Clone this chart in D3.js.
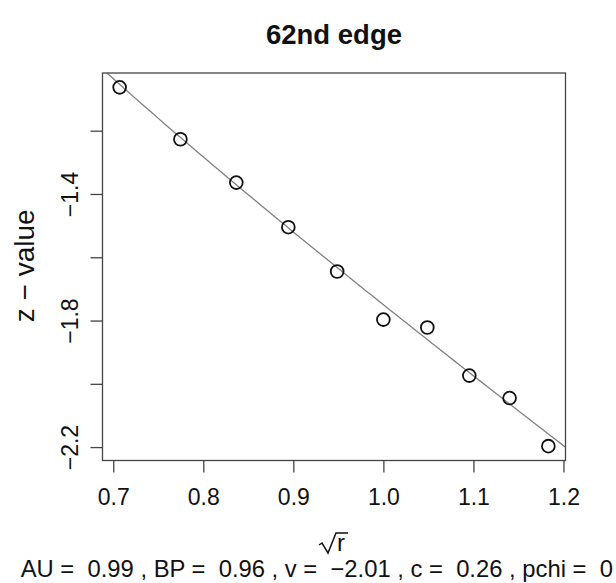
<!DOCTYPE html>
<html>
<head>
<meta charset="utf-8">
<script src="https://cdn.jsdelivr.net/npm/d3@7"></script>
<style>
  html, body { margin: 0; padding: 0; background: #fff; }
  svg { display: block; font-family: "Liberation Sans", Arial, Helvetica, sans-serif; }
</style>
</head>
<body>
<svg id="chart" width="616" height="583"></svg>
<script>
// ---- data ----
const sqrtR = [Math.sqrt(0.5), Math.sqrt(0.6), Math.sqrt(0.7), Math.sqrt(0.8), Math.sqrt(0.9),
               Math.sqrt(1.0), Math.sqrt(1.1), Math.sqrt(1.2), Math.sqrt(1.3), Math.sqrt(1.4)];
const zValues = [-1.063, -1.227, -1.364, -1.505, -1.645, -1.797, -1.822, -1.974, -2.045, -2.197];
const fitCoef = { v: -2.01, c: 0.26 };   // fitted curve z = v*sqrt(r) + c/sqrt(r)
const xTicks = [0.7, 0.8, 0.9, 1.0, 1.1, 1.2];
const xTickLabels = ["0.7", "0.8", "0.9", "1.0", "1.1", "1.2"];
const yTicks = [-2.2, -2.0, -1.8, -1.6, -1.4, -1.2];
const yTickLabels = ["\u22122.2", "", "\u22121.8", "", "\u22121.4", ""];
const titleText = "62nd edge";
const subText = "AU =  0.99 , BP =  0.96 , v =  \u22122.01 , c =  0.26 , pchi =  0";

// ---- layout ----
const L = 102.5, R = 565.5, T = 73, B = 460.5;
const svg = d3.select("#chart");

function ext(arr) {
  const [a, b] = d3.extent(arr);
  const d = (b - a) * 0.04;
  return [a - d, b + d];
}
const x = d3.scaleLinear().domain(ext(sqrtR)).range([L, R]);
const y = d3.scaleLinear().domain(ext(zValues)).range([B, T]);

// fitted curve (clipped to plot region)
svg.append("clipPath").attr("id", "clip")
  .append("rect").attr("x", L).attr("y", T).attr("width", R - L).attr("height", B - T);
const xd = x.domain();
const curveXs = d3.range(0, 101).map(i => xd[0] + (xd[1] - xd[0]) * i / 100);
svg.append("path")
  .attr("clip-path", "url(#clip)")
  .attr("d", d3.line().x(d => x(d)).y(d => y(fitCoef.v * d + fitCoef.c / d))(curveXs))
  .attr("fill", "none").attr("stroke", "#808080").attr("stroke-width", 1.3);

// points
svg.append("g").selectAll("circle").data(sqrtR.map((d, i) => [d, zValues[i]]))
  .join("circle")
  .attr("cx", d => x(d[0])).attr("cy", d => y(d[1])).attr("r", 6.4)
  .attr("fill", "none").attr("stroke", "#111").attr("stroke-width", 1.8);

// box
svg.append("rect").attr("x", L).attr("y", T).attr("width", R - L).attr("height", B - T)
  .attr("fill", "none").attr("stroke", "#444").attr("stroke-width", 1.3);

// x axis
const gx = svg.append("g").attr("transform", `translate(0,${B})`)
  .call(d3.axisBottom(x).tickValues(xTicks).tickSize(12)
    .tickFormat((d, i) => xTickLabels[i]));
gx.select(".domain").remove();
gx.selectAll(".tick line").attr("stroke", "#444").attr("stroke-width", 1.3);
gx.selectAll(".tick text").attr("y", 44.5).attr("dy", 0)
  .attr("font-size", 23).attr("fill", "#111")
  .attr("font-family", "Liberation Sans, Arial, sans-serif");

// y axis
const gy = svg.append("g").attr("transform", `translate(${L},0)`)
  .call(d3.axisLeft(y).tickValues(yTicks).tickSize(12)
    .tickFormat((d, i) => yTickLabels[i]));
gy.select(".domain").remove();
gy.selectAll(".tick line").attr("stroke", "#444").attr("stroke-width", 1.3);
gy.selectAll(".tick text").attr("x", 0).attr("dy", 0)
  .attr("transform", "translate(-24.5,0) rotate(-90)")
  .attr("text-anchor", "middle")
  .attr("font-size", 23).attr("fill", "#111")
  .attr("font-family", "Liberation Sans, Arial, sans-serif");

// title
svg.append("text").attr("x", (L + R) / 2).attr("y", 44)
  .attr("text-anchor", "middle").attr("font-size", 27.5).attr("font-weight", "bold")
  .attr("fill", "#111").text(titleText);

// y label
svg.append("text").attr("transform", `translate(34,${(T + B) / 2 - 1}) rotate(-90)`)
  .attr("text-anchor", "middle").attr("font-size", 28).attr("fill", "#111")
  .text("z \u2212 value");

// x label: sqrt(r)
const cx = (L + R) / 2;
const xl = svg.append("g").attr("transform", `translate(${cx},551)`);
xl.append("text").attr("x", 3).attr("y", 0).attr("text-anchor", "start")
  .attr("font-size", 24).attr("fill", "#111").text("r");
xl.append("path")
  .attr("d", "M-15,-6 L-12,-8 L-6,2 L2,-18 L14,-18")
  .attr("fill", "none").attr("stroke", "#111").attr("stroke-width", 1.5);

// sub text
svg.append("text").attr("x", 20.7).attr("y", 577)
  .attr("text-anchor", "start").attr("font-size", 23.8).attr("fill", "#111")
  .attr("xml:space", "preserve").style("white-space", "pre")
  .text(subText);
</script>
</body>
</html>
